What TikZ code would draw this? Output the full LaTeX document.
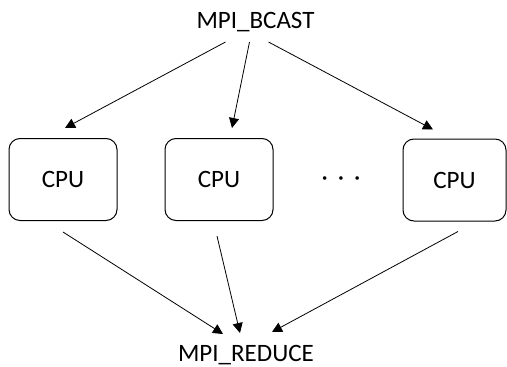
\documentclass[tikz,border=0pt]{standalone}
\usepackage{fontspec}
\setmainfont{Carlito}
\usetikzlibrary{arrows.meta}

\tikzset{
  cpubox/.style={draw, line width=1pt, rounded corners=11pt,
                 minimum width=108pt, minimum height=82pt, inner sep=0pt,
                 font=\fontsize{25}{29}\selectfont},
  mpilabel/.style={inner sep=0pt, font=\fontsize{25}{29}\selectfont},
  flow/.style={line width=0.8pt, -{Triangle[length=10pt, width=10pt]}}
}

\begin{document}
\begin{tikzpicture}[x=1pt, y=-1pt]
        \useasboundingbox (0,0) rectangle (507,367);
        % collective calls
        \node[mpilabel] (bcast) at (255.5,22) {MPI\_BCAST};
        \node[mpilabel] (reduce) at (246,355) {MPI\_REDUCE};
        % processors
        \node[cpubox] (cpu1) at (63,179.5) {CPU};
        \node[cpubox] (cpu2) at (219,179.5) {CPU};
        \node[cpubox, minimum width=103pt] (cpu3) at (454.5,180) {CPU};
        \node[mpilabel] (dots) at (341,181) {·\hspace{10pt}·\hspace{10pt}·};
        % broadcast
        \draw[flow] ([shift={(-30,20)}]bcast.center) -- ([shift={(2,-10)}]cpu1.north);
        \draw[flow] ([shift={(-6,20)}]bcast.center) -- ([shift={(13,-10)}]cpu2.north);
        \draw[flow] ([shift={(13,20)}]bcast.center) -- ([shift={(-21.5,-9)}]cpu3.north);
        % reduction
        \draw[flow] ([shift={(0,11)}]cpu1.south) -- ([shift={(-23,-21)}]reduce.center);
        \draw[flow] ([shift={(-2,15)}]cpu2.south) -- ([shift={(-6,-22)}]reduce.center);
        \draw[flow] ([shift={(3.5,10)}]cpu3.south) -- ([shift={(26,-23)}]reduce.center);
\end{tikzpicture}
\end{document}
